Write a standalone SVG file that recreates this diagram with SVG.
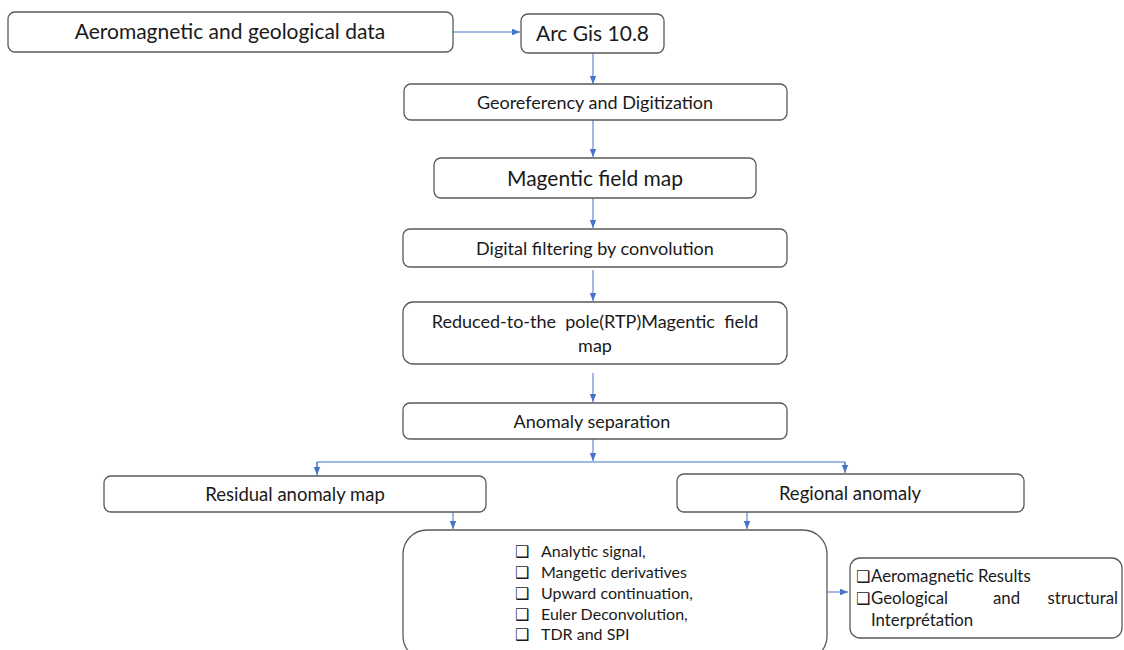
<svg xmlns="http://www.w3.org/2000/svg" width="1124" height="650" viewBox="0 0 1124 650">
<style>
.box{fill:#fff;stroke:#5a5a5a;stroke-width:1.3}
.t{font-family:Lato,"Open Sans","DejaVu Sans",sans-serif;fill:#1a1a1a}
.big{font-size:21px}
.mid{font-size:18px}
.res{font-size:18.5px}
.sm{font-size:16px}
.sm2{font-size:16.8px}
.cb{font-family:"DejaVu Sans",sans-serif;font-size:16px;font-weight:bold;fill:#1a1a1a}
.c{text-anchor:middle}
.ln{fill:none;stroke:#4472c4;stroke-width:1}
</style>
<defs>
<marker id="ah" markerUnits="userSpaceOnUse" markerWidth="8" markerHeight="8" viewBox="0 0 8 8" refX="8" refY="4" orient="auto">
<path d="M0,0.8 L8,4 L0,7.2 Z" fill="#4472c4"/>
</marker>
</defs>
<rect width="1124" height="650" fill="#fff"/>
<g id="connectors">
<line class="ln" x1="453" y1="32" x2="520" y2="32" marker-end="url(#ah)"/>
<line class="ln" x1="593" y1="53" x2="593" y2="84" marker-end="url(#ah)"/>
<line class="ln" x1="593" y1="120" x2="593" y2="157" marker-end="url(#ah)"/>
<line class="ln" x1="593" y1="198" x2="593" y2="228" marker-end="url(#ah)"/>
<line class="ln" x1="593" y1="270" x2="593" y2="301" marker-end="url(#ah)"/>
<line class="ln" x1="593" y1="373" x2="593" y2="402" marker-end="url(#ah)"/>
<line class="ln" x1="593" y1="439" x2="593" y2="461" marker-end="url(#ah)"/>
<polyline class="ln" points="317,468 317,462 845,462 845,468"/>
<line class="ln" x1="317" y1="462" x2="317" y2="475" marker-end="url(#ah)"/>
<line class="ln" x1="845" y1="462" x2="845" y2="473" marker-end="url(#ah)"/>
<line class="ln" x1="453" y1="512" x2="453" y2="529" marker-end="url(#ah)"/>
<line class="ln" x1="747" y1="512" x2="747" y2="529" marker-end="url(#ah)"/>
<line class="ln" x1="827" y1="592" x2="848" y2="592" marker-end="url(#ah)"/>
</g>
<g id="n1"><rect class="box" x="8" y="12" width="445" height="40" rx="7"/><text class="t big c" x="230" y="39">Aeromagnetic and geological data</text></g>
<g id="n2"><rect class="box" x="521" y="14" width="143" height="39" rx="7"/><text class="t big c" x="592.5" y="40.5">Arc Gis 10.8</text></g>
<g id="n3"><rect class="box" x="404" y="84" width="383" height="36" rx="7"/><text class="t mid c" x="595" y="108.5">Georeferency and Digitization</text></g>
<g id="n4"><rect class="box" x="434" y="158" width="322" height="40" rx="7"/><text class="t big c" x="595" y="185.5">Magentic field map</text></g>
<g id="n5"><rect class="box" x="403" y="229" width="384" height="38" rx="7"/><text class="t mid c" x="595" y="254.5">Digital filtering by convolution</text></g>
<g id="n6"><rect class="box" x="403" y="302" width="384" height="62" rx="10"/><text class="t mid c" x="595" y="328" xml:space="preserve">Reduced-to-the  pole(RTP)Magentic  field</text><text class="t mid c" x="595" y="352">map</text></g>
<g id="n7"><rect class="box" x="403" y="403" width="384" height="36" rx="7"/><text class="t mid c" x="592" y="427.5">Anomaly separation</text></g>
<g id="n8"><rect class="box" x="104" y="476" width="382" height="36" rx="7"/><text class="t res c" x="295" y="500.5">Residual anomaly map</text></g>
<g id="n9"><rect class="box" x="677" y="474" width="347" height="38" rx="7"/><text class="t res c" x="850" y="499.5">Regional anomaly</text></g>
<g id="n10"><rect class="box" x="403" y="530" width="424" height="130" rx="24"/>
<text class="cb" x="515" y="557">❑</text><text class="t sm" x="541" y="557">Analytic signal,</text>
<text class="cb" x="515" y="578">❑</text><text class="t sm" x="541" y="578">Mangetic derivatives</text>
<text class="cb" x="515" y="599">❑</text><text class="t sm" x="541" y="599">Upward continuation,</text>
<text class="cb" x="515" y="620">❑</text><text class="t sm" x="541" y="620">Euler Deconvolution,</text>
<text class="cb" x="515" y="640">❑</text><text class="t sm" x="541" y="640">TDR and SPI</text>
</g>
<g id="n11"><rect class="box" x="850" y="558" width="272" height="80" rx="10"/>
<text class="cb" x="856" y="582">❑</text><text class="t sm2" x="871" y="582">Aeromagnetic Results</text>
<text class="cb" x="856" y="604">❑</text><text class="t sm2" x="871" y="604">Geological</text><text class="t sm2" x="993" y="604">and</text><text class="t sm2" x="1118" y="604" text-anchor="end">structural</text>
<text class="t sm2" x="871" y="626">Interprétation</text>
</g>
</svg>
